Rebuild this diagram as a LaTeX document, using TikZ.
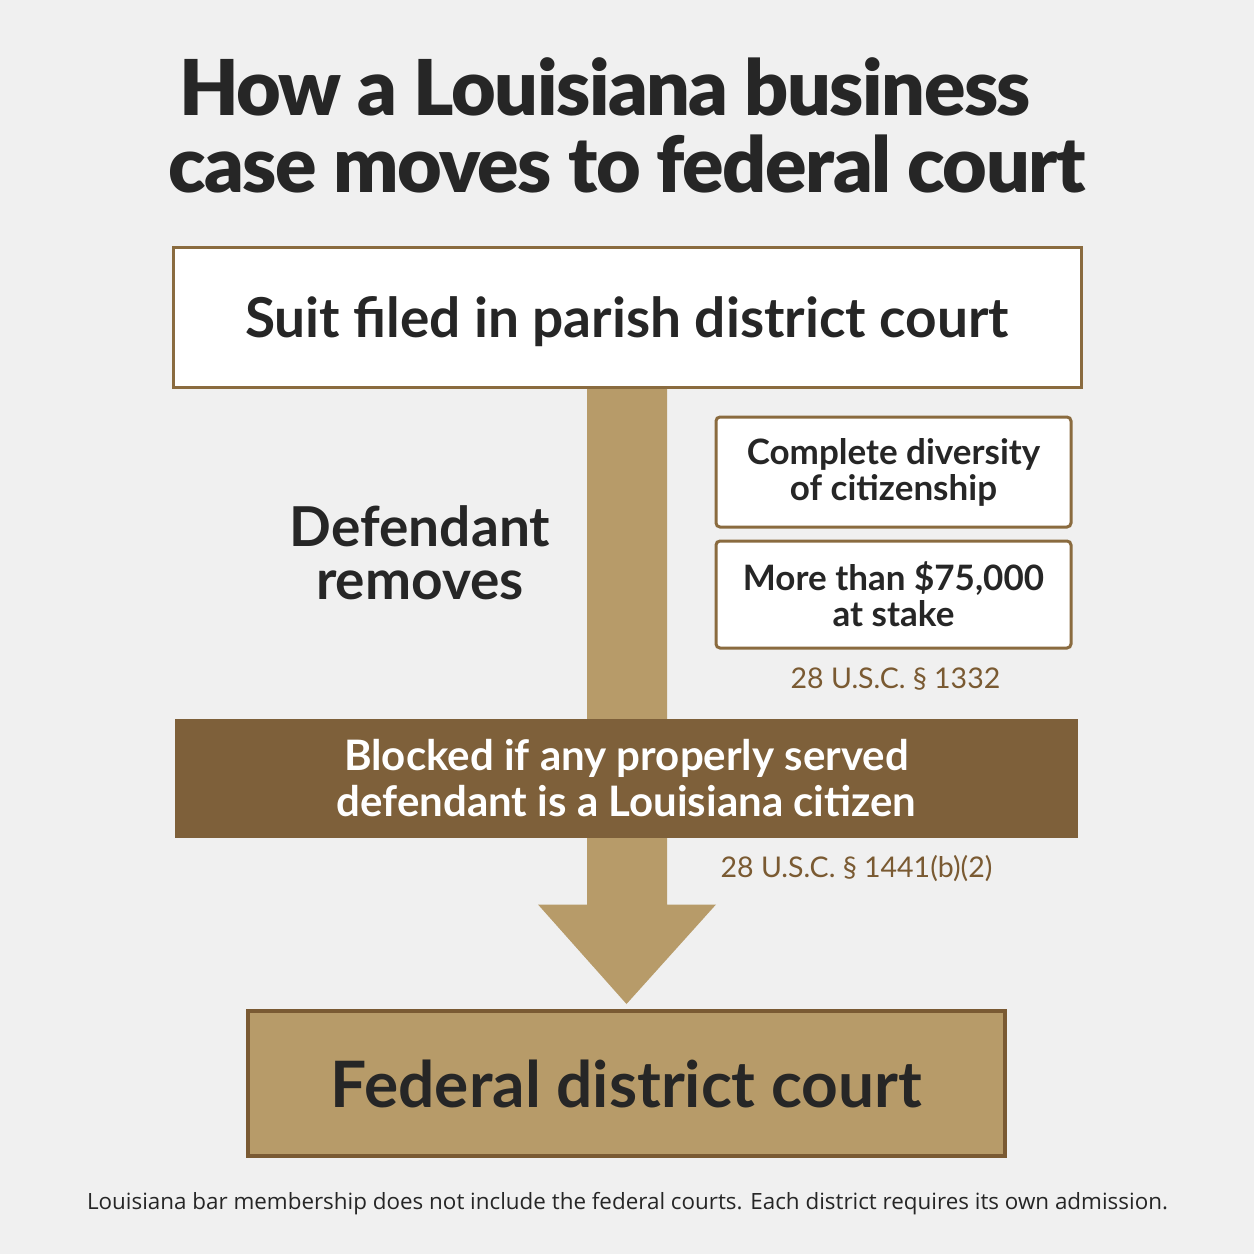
\documentclass[tikz,border=0pt]{standalone}
\usepackage{fontspec}
\setmainfont{Lato}
\newfontfamily\titlefont{Lato Black}[LetterSpace=-2]
\newfontfamily\footfont{Open Sans}
\usetikzlibrary{calc,backgrounds}
\definecolor{bgc}{HTML}{F0F0F0}
\definecolor{tan}{HTML}{B79B69}
\definecolor{band}{HTML}{7E603A}
\definecolor{edge}{HTML}{8A6B3F}
\definecolor{fededge}{HTML}{7A5A33}
\definecolor{ink}{HTML}{262626}
\definecolor{cite}{HTML}{7A5A32}
\tikzset{
  titletext/.style={font=\titlefont\fontsize{77}{77}\selectfont, text=ink, align=center, inner sep=0pt},
  whitebox/.style={draw=edge, line width=3pt, fill=white, inner sep=0pt},
  sidebox/.style={draw=edge, line width=3pt, fill=white, rounded corners=4pt, inner sep=0pt,
     minimum width=355pt, font=\fontsize{35}{36}\selectfont\bfseries, text=ink, align=center},
  bandbox/.style={fill=band, inner sep=0pt, text=white, align=center,
     font=\fontsize{42}{46}\selectfont\bfseries},
  fedbox/.style={draw=fededge, line width=4pt, fill=tan, inner sep=0pt, text=ink,
     font=\fontsize{64}{66}\selectfont\bfseries},
  citetext/.style={font=\fontsize{28.5}{30}\selectfont, text=cite, inner sep=0pt, anchor=base},
  sidetext/.style={font=\fontsize{55}{53}\selectfont\bfseries, text=ink, align=center, inner sep=0pt},
  foottext/.style={font=\footfont\fontsize{22.4}{25}\selectfont, text=ink, inner sep=0pt, anchor=base}
}
\begin{document}
\begin{tikzpicture}[x=1pt,y=-1pt]
\useasboundingbox (0,0) rectangle (1254,1254);

\node[titletext] (title) at (627,125) {How a Louisiana business\rule{44pt}{0pt}\\case moves to federal court};

\node[whitebox, minimum width=908pt, minimum height=140pt,
      font=\fontsize{55}{60}\selectfont\bfseries, text=ink, text height=40pt, text depth=0pt]
      (suit) at (627,317) {Suit filed in parish district court};

\node[sidetext] (removes) at (420,553) {Defendant\\removes};

\node[sidebox, minimum height=110pt] (diversity) at (893.5,472) {Complete diversity\\of citizenship};
\node[sidebox, minimum height=107pt] (amount) at (893.5,594.5) {More than \$75,000\\at stake};
\node[citetext] (cite1) at (895.5,688) {28 U.S.C. § 1332};

\node[bandbox, minimum width=903pt, minimum height=119pt] (blocked) at (626.5,778.5)
      {Blocked if any properly served\\defendant is a Louisiana citizen};
\node[citetext] (cite2) at (856.5,877) {28 U.S.C. § 1441(b)(2)};

\node[fedbox, minimum width=757pt, minimum height=145pt, text height=47pt, text depth=0pt]
      (federal) at (626.5,1083.5) {Federal district court};

\node[foottext] (foot) at (627.5,1209) {Louisiana bar membership does not include the federal courts. Each district requires its own admission.};

\begin{pgfonlayer}{background}
\fill[bgc] (0,0) rectangle (1254,1254);
\fill[tan] ($(suit.south)+(-40,-2)$) -- ($(suit.south)+(-40,516)$) -- ($(suit.south)+(-89,516)$)
  -- ($(federal.north)+(0,-5)$) -- ($(suit.south)+(89,516)$) -- ($(suit.south)+(40,516)$)
  -- ($(suit.south)+(40,-2)$) -- cycle;
\end{pgfonlayer}
\end{tikzpicture}
\end{document}
